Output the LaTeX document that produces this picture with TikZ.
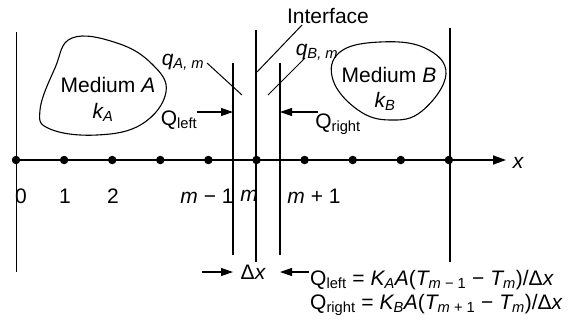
\documentclass[tikz,border=0pt]{standalone}
\usepackage{fontspec}
\setmainfont{Liberation Sans}
\usetikzlibrary{arrows.meta}
\newcommand\sbs[1]{\textsubscript{#1}}
\begin{document}
\begin{tikzpicture}[x=1pt,y=-1pt,
  lbl/.style={font=\fontsize{21}{24}\selectfont, inner sep=0pt},
  axisline/.style={line width=1.5pt},
  vline/.style={line width=1.1pt},
  thickline/.style={line width=1.7pt},
  leader/.style={line width=1pt},
  arr/.style={-{Triangle[length=12pt,width=8pt]}, line width=1.1pt},
  dot/.style={circle, fill=black, inner sep=0pt, minimum size=8.5pt},
  blob/.style={line width=1.1pt}]
\useasboundingbox (0,0) rectangle (570,333);

% vertical lines
\coordinate (L0t) at (16.5,32);  \coordinate (L0b) at (16.5,272);
\coordinate (Lat) at (233,63);   \coordinate (Lab) at (233,255);
\coordinate (Lit) at (256,30);   \coordinate (Lib) at (256,262);
\coordinate (Lbt) at (280,63);   \coordinate (Lbb) at (280,255);
\coordinate (Lrt) at (450,28);   \coordinate (Lrb) at (450,262);
\draw[vline] (L0t) -- (L0b);
\draw[vline] (Lat) -- (Lab);
\draw[thickline] (Lit) -- (Lib);
\draw[vline] (Lbt) -- (Lbb);
\draw[vline] (Lrt) -- (Lrb);

% axis
\coordinate (ax0) at (16,160);
\coordinate (axend) at (506,160);
\draw[axisline,-{Triangle[length=13pt,width=9pt]}] (ax0) -- (axend);
\node[lbl] (xlab) at (518,163) {\itshape x};
\foreach \i in {0,...,9} {
  \node[dot] (d\i) at ({16+48.1*\i},160) {};
}

% node labels under axis
\node[lbl] (n0) at (21,196) {0};
\node[lbl] (n1) at (65,196) {1};
\node[lbl] (n2) at (113,196) {2};
\node[lbl] (nm1) at (207,196) {\itshape m\upshape\ −\ 1};
\node[lbl] (nm) at (249,196) {\itshape m};
\node[lbl] (np1) at (314,196) {\itshape m\upshape\ +\ 1};

% media blobs
\draw[blob] plot[smooth cycle, tension=0.7] coordinates {
  (72,38) (117,43) (152,64) (166,92) (142,124) (97,135) (50,129) (40,110) (55,68)};
\node[lbl] (medA) at (108,85) {Medium \itshape A};
\node[lbl] (kA) at (103,112) {\itshape k\sbs{A}};

\draw[blob] plot[smooth cycle, tension=0.7] coordinates {
  (340,52) (380,42) (425,48) (446,74) (422,111) (390,120) (358,110) (333,80)};
\node[lbl] (medB) at (389,75) {Medium \itshape B};
\node[lbl] (kB) at (385,101) {\itshape k\sbs{B}};

% interface
\node[lbl] (intf) at (328,16) {Interface};
\coordinate (intfA) at (302,25);
\coordinate (intfB) at (257,72);
\draw[leader] (intfA) -- (intfB);

% q labels
\node[lbl] (qA) at (183,62) {\itshape q\sbs{A, m}};
\coordinate (qAa) at (207,63);
\coordinate (qAb) at (242,95);
\draw[leader] (qAa) -- (qAb);
\node[lbl] (qB) at (317,52) {\itshape q\sbs{B, m}};
\coordinate (qBa) at (305,58);
\coordinate (qBb) at (268,95);
\draw[leader] (qBa) -- (qBb);

% Q arrows
\node[lbl] (Ql) at (179,120) {Q\sbs{left}};
\coordinate (Qlt) at (197,112);
\draw[arr] (Qlt) -- (Lat |- Qlt);
\node[lbl] (Qr) at (338,124) {Q\sbs{right}};
\coordinate (Qrt) at (318,112);
\draw[arr] (Qrt) -- (Lbt |- Qrt);

% delta x
\node[lbl] (dx) at (253,272) {Δ\itshape x};
\coordinate (dxl) at (202,272);
\coordinate (dxr) at (309,272);
\draw[arr] (dxl) -- (Lat |- dxl);
\draw[arr] (dxr) -- (Lbt |- dxr);

% formulas
\node[lbl, anchor=base west] (f1) at (310,285)
  {Q\sbs{left} = \itshape K\sbs{A}A\upshape(\itshape T\sbs{m\upshape\ −\ 1}\upshape\ −\ \itshape T\sbs{m}\upshape)/Δ\itshape x};
\node[lbl, anchor=base west] (f2) at (310,309)
  {Q\sbs{right} = \itshape K\sbs{B}A\upshape(\itshape T\sbs{m\upshape\ +\ 1}\upshape\ −\ \itshape T\sbs{m}\upshape)/Δ\itshape x};
\end{tikzpicture}
\end{document}
